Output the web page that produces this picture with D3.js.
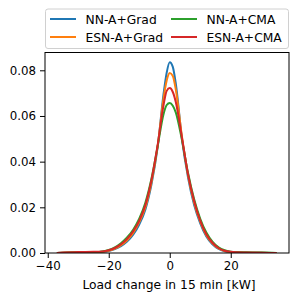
<!DOCTYPE html>
<html>
<head>
<meta charset="utf-8">
<script src="https://cdn.jsdelivr.net/npm/d3@7"></script>
<style>
  body { margin: 0; background: #fff; }
  text { font-family: "DejaVu Sans", sans-serif; fill: #000; }
</style>
</head>
<body>
<div id="chart"></div>
<script>
var loadChange = [-37, -30, -25, -22, -20, -18, -16, -14, -12, -10, -8, -6, -4, -2, -1, 0, 1, 2, 4, 6, 8, 10, 12, 14, 16, 18, 20, 22, 25, 30, 35];

var nnGrad  = [0, 0.0002, 0.0003, 0.0005, 0.0009, 0.0017, 0.0030, 0.0050, 0.0080, 0.0125, 0.0190, 0.0300, 0.0460, 0.0700, 0.0790, 0.0835, 0.0815, 0.0740, 0.0500, 0.0330, 0.0210, 0.0130, 0.0072, 0.0038, 0.0018, 0.0008, 0.0004, 0.0002, 0.0001, 0.0001, 0];
var esnGrad = [0, 0.0003, 0.0004, 0.0006, 0.0010, 0.0019, 0.0034, 0.0056, 0.0088, 0.0135, 0.0200, 0.0310, 0.0465, 0.0680, 0.0755, 0.0788, 0.0775, 0.0715, 0.0510, 0.0340, 0.0220, 0.0137, 0.0078, 0.0042, 0.0020, 0.0009, 0.0004, 0.0002, 0.0001, 0.0001, 0];
var nnCma   = [0, 0.0003, 0.0004, 0.0007, 0.0013, 0.0025, 0.0043, 0.0068, 0.0102, 0.0150, 0.0220, 0.0325, 0.0465, 0.0610, 0.0648, 0.0657, 0.0645, 0.0615, 0.0495, 0.0350, 0.0235, 0.0150, 0.0090, 0.0050, 0.0025, 0.0012, 0.0006, 0.0004, 0.0003, 0.0002, 0];
var esnCma  = [0, 0.0004, 0.0005, 0.0007, 0.0012, 0.0022, 0.0038, 0.0062, 0.0095, 0.0142, 0.0210, 0.0320, 0.0470, 0.0650, 0.0710, 0.0722, 0.0705, 0.0660, 0.0505, 0.0345, 0.0228, 0.0142, 0.0082, 0.0045, 0.0022, 0.0010, 0.0005, 0.0003, 0.0002, 0.0001, 0];

var seriesNames = ["NN-A+Grad", "ESN-A+Grad", "NN-A+CMA", "ESN-A+CMA"];
var seriesValues = [nnGrad, esnGrad, nnCma, esnCma];
var colors = ["#1f77b4", "#ff7f0e", "#2ca02c", "#d62728"];

var xTicks = [-40, -20, 0, 20];
var yTicks = [0, 0.02, 0.04, 0.06, 0.08];

var width = 302, height = 300,
    margin = {top: 52.5, right: 13, bottom: 47, left: 45};

var svg = d3.select("#chart")
    .append("svg")
    .attr("width", width)
    .attr("height", height);

var plotW = width - margin.left - margin.right,
    plotH = height - margin.top - margin.bottom;

var x = d3.scaleLinear().domain([-40.9, 39.1]).range([0, plotW]);
var y = d3.scaleLinear().domain([0, 0.0878]).range([plotH, 0]);

var g = svg.append("g")
    .attr("transform", "translate(" + margin.left + "," + margin.top + ")");

var clip = g.append("clipPath").attr("id", "clip")
    .append("rect").attr("width", plotW).attr("height", plotH);

var line = d3.line()
    .x(function(d) { return x(d[0]); })
    .y(function(d) { return y(d[1]); })
    .curve(d3.curveMonotoneX);

seriesValues.forEach(function(vals, i) {
    g.append("path")
        .datum(loadChange.map(function(v, j) { return [v, vals[j]]; }))
        .attr("d", line)
        .attr("clip-path", "url(#clip)")
        .attr("fill", "none")
        .attr("stroke", colors[i])
        .attr("stroke-width", 2);
});

// axes
var xAxis = g.append("g")
    .attr("transform", "translate(0," + plotH + ")")
    .call(d3.axisBottom(x).tickValues(xTicks).tickSize(5).tickPadding(4)
        .tickFormat(function(d) { return d < 0 ? "\u2212" + Math.abs(d) : d; }));

var yAxis = g.append("g")
    .call(d3.axisLeft(y).tickValues(yTicks).tickSize(5).tickPadding(4)
        .tickFormat(d3.format(".2f")));

[xAxis, yAxis].forEach(function(a) {
    a.select(".domain").remove();
    a.selectAll("line").attr("stroke", "#000").attr("stroke-width", 1);
    a.selectAll("text").style("font-size", "11.8px").attr("fill", "#000");
});

g.append("rect")
    .attr("width", plotW).attr("height", plotH)
    .attr("fill", "none").attr("stroke", "#000").attr("stroke-width", 1);

g.append("text")
    .attr("x", plotW / 2 + 2)
    .attr("y", plotH + 36)
    .attr("text-anchor", "middle")
    .style("font-size", "12.3px")
    .text("Load change in 15 min [kW]");

// legend
var legend = svg.append("g");
legend.append("rect")
    .attr("x", 45.5).attr("y", 9)
    .attr("width", 243).attr("height", 39.5)
    .attr("rx", 2.5)
    .attr("fill", "#fff").attr("stroke", "#d0d0d0").attr("stroke-width", 1);

var legendPos = [[50, 19], [50, 37], [171, 19], [171, 37]];
seriesNames.forEach(function(name, i) {
    var p = legendPos[i];
    legend.append("line")
        .attr("x1", p[0]).attr("x2", p[0] + 26)
        .attr("y1", p[1]).attr("y2", p[1])
        .attr("stroke", colors[i]).attr("stroke-width", 2);
    legend.append("text")
        .attr("x", p[0] + 35.5).attr("y", p[1] + 4.5)
        .style("font-size", "12.3px")
        .text(name);
});
</script>
</body>
</html>
